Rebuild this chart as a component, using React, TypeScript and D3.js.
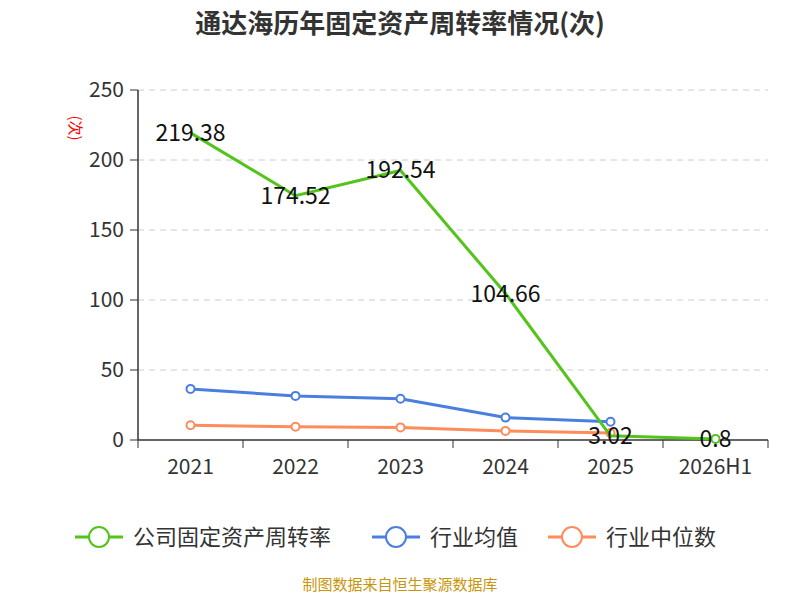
import React from 'react';
import * as d3 from 'd3';

const categories = ['2021', '2022', '2023', '2024', '2025', '2026H1'];
const companyValues = [219.38, 174.52, 192.54, 104.66, 3.02, 0.8];
const industryAvg = [36.5, 31.5, 29.5, 16, 13];
const industryMedian = [10.5, 9.5, 9, 6.5, 5];
const yTicks = [0, 50, 100, 150, 200, 250];

const GREEN = '#52c41a';
const BLUE = '#4a7fe0';
const ORANGE = '#ff8c5a';

const App: React.FC = () => {
  const x = d3.scaleBand().domain(categories).range([138, 768]);
  const y = d3.scaleLinear().domain([0, 250]).range([440, 90]);
  const cx = (i: number) => (x(categories[i]) ?? 0) + x.bandwidth() / 2;
  const line = d3.line<number>().x((_, i) => cx(i)).y(d => y(d));
  const font = '"Noto Sans CJK SC", "Noto Sans", sans-serif';

  const legend = [
    { name: '公司固定资产周转率', color: GREEN, x: 75 },
    { name: '行业均值', color: BLUE, x: 372 },
    { name: '行业中位数', color: ORANGE, x: 548 },
  ];

  return (
    <svg width={800} height={600} style={{ position: 'absolute', left: 0, top: 0 }} fontFamily={font}>
      <rect width={800} height={600} fill="#fff" />
      <text x={400} y={33} textAnchor="middle" fontSize={26} fontWeight="bold" fill="#333">
        通达海历年固定资产周转率情况(次)
      </text>
      {yTicks.map(t => (
        <g key={t}>
          {t > 0 && <line x1={138} x2={768} y1={y(t)} y2={y(t)} stroke="#ccc" strokeDasharray="6,5" />}
          <line x1={130} x2={138} y1={y(t)} y2={y(t)} stroke="#333" />
          <text x={124} y={y(t)} dy="0.35em" textAnchor="end" fontSize={21} fill="#333">{t}</text>
        </g>
      ))}
      <text x={75} y={128} fontSize={15} fill="red" textAnchor="middle" dy="0.35em"
        transform="rotate(90,75,128)">(次)</text>
      <line x1={138} x2={138} y1={90} y2={440} stroke="#333" strokeWidth={1.5} />
      <line x1={138} x2={768} y1={440} y2={440} stroke="#333" strokeWidth={1.5} />
      {categories.map((c, i) => (
        <g key={c}>
          <line x1={x(c)} x2={x(c)} y1={440} y2={448} stroke="#333" />
          <text x={cx(i)} y={474} textAnchor="middle" fontSize={21} fill="#333">{c}</text>
        </g>
      ))}
      <line x1={768} x2={768} y1={440} y2={448} stroke="#333" />
      <path d={line(industryMedian) ?? ''} fill="none" stroke={ORANGE} strokeWidth={3} />
      {industryMedian.map((v, i) => (
        <circle key={i} cx={cx(i)} cy={y(v)} r={4} fill="#fff" stroke={ORANGE} strokeWidth={2} />
      ))}
      <path d={line(industryAvg) ?? ''} fill="none" stroke={BLUE} strokeWidth={3} />
      {industryAvg.map((v, i) => (
        <circle key={i} cx={cx(i)} cy={y(v)} r={4} fill="#fff" stroke={BLUE} strokeWidth={2} />
      ))}
      <path d={line(companyValues) ?? ''} fill="none" stroke={GREEN} strokeWidth={3} />
      <circle cx={cx(5)} cy={y(companyValues[5])} r={4} fill="#fff" stroke={GREEN} strokeWidth={2} />
      {companyValues.map((v, i) => (
        <text key={i} x={cx(i)} y={y(v)} dy="0.35em" textAnchor="middle" fontSize={23} fill="#111">{v}</text>
      ))}
      {legend.map(l => (
        <g key={l.name}>
          <line x1={l.x} x2={l.x + 48} y1={537} y2={537} stroke={l.color} strokeWidth={3} />
          <circle cx={l.x + 24} cy={537} r={10} fill="#fff" stroke={l.color} strokeWidth={2} />
          <text x={l.x + 58} y={537} dy="0.35em" fontSize={22} fill="#333">{l.name}</text>
        </g>
      ))}
      <text x={400} y={590} textAnchor="middle" fontSize={15} fill="#c8960c">制图数据来自恒生聚源数据库</text>
    </svg>
  );
};

export default App;
